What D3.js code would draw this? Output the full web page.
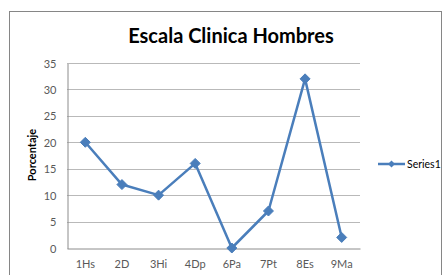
<!DOCTYPE html>
<html>
<head>
<meta charset="utf-8">
<script src="https://cdn.jsdelivr.net/npm/d3@7"></script>
<style>
  html, body { margin: 0; padding: 0; background: #fff; }
  svg { display: block; font-family: Lato, "Open Sans", sans-serif; }
</style>
</head>
<body>
<div id="chart"></div>
<script>
// Escala Clinica Hombres — single line series
const categories = ['1Hs', '2D', '3Hi', '4Dp', '6Pa', '7Pt', '8Es', '9Ma'];
const series1 = [20, 12, 10, 16, 0, 7, 32, 2];
const yTicks = [0, 5, 10, 15, 20, 25, 30, 35];

const W = 444, H = 275;
const plot = { left: 67, right: 360, top: 63, bottom: 248 };
const color = '#4a7ebb';

const svg = d3.select('#chart').append('svg')
  .attr('width', W).attr('height', H);

// chart frame
svg.append('rect')
  .attr('x', 9.5).attr('y', 11.5).attr('width', 432).attr('height', 280)
  .attr('fill', '#fff').attr('stroke', '#868686').attr('stroke-width', 1);

const x = d3.scaleBand().domain(categories).range([plot.left, plot.right]);
const y = d3.scaleLinear().domain([0, 35]).range([plot.bottom, plot.top]);

// gridlines
svg.append('g').selectAll('line').data(yTicks.filter(t => t > 0)).enter().append('line')
  .attr('x1', plot.left).attr('x2', plot.right)
  .attr('y1', d => Math.round(y(d)) + 0.5).attr('y2', d => Math.round(y(d)) + 0.5)
  .attr('stroke', '#b9b9b9');

// y axis
const yAxis = svg.append('g')
  .attr('transform', `translate(${plot.left + 0.5},0.5)`)
  .call(d3.axisLeft(y).tickValues(yTicks).tickSize(0).tickPadding(11));
yAxis.select('.domain').attr('stroke', '#8c8c8c');
yAxis.selectAll('text').attr('fill', '#595959').attr('font-size', 11)
  .attr('font-family', 'Lato, sans-serif');

// x axis
const xAxis = svg.append('g')
  .attr('transform', `translate(0,${Math.round(plot.bottom) + 0.5})`)
  .call(d3.axisBottom(x).tickSize(0).tickPadding(12));
xAxis.select('.domain').attr('stroke', '#8c8c8c');
xAxis.selectAll('text').attr('fill', '#595959').attr('font-size', 11)
  .attr('font-family', 'Lato, sans-serif');

// line
const cx = c => x(c) + x.bandwidth() / 2;
svg.append('path')
  .datum(series1)
  .attr('fill', 'none').attr('stroke', color).attr('stroke-width', 2.5)
  .attr('stroke-linejoin', 'round')
  .attr('d', d3.line().x((d, i) => cx(categories[i])).y(d => y(d)));

// diamond markers
const diamond = s => `M0,${-s}L${s},0L0,${s}L${-s},0Z`;
svg.append('g').selectAll('path').data(series1).enter().append('path')
  .attr('transform', (d, i) => `translate(${cx(categories[i])},${y(d)})`)
  .attr('d', diamond(5))
  .attr('fill', color).attr('stroke', color);

// title
svg.append('text')
  .attr('x', 231).attr('y', 43).attr('text-anchor', 'middle')
  .attr('font-size', 20).attr('font-weight', 'bold').attr('fill', '#000')
  .text('Escala Clinica Hombres');

// y label
svg.append('text')
  .attr('transform', 'translate(36,155) rotate(-90)')
  .attr('text-anchor', 'middle')
  .attr('font-size', 11).attr('font-weight', 'bold').attr('fill', '#000')
  .text('Porcentaje');

// legend
const lg = svg.append('g').attr('transform', 'translate(378,164)');
lg.append('line').attr('x1', 0).attr('x2', 27).attr('stroke', color).attr('stroke-width', 2.5);
lg.append('path').attr('transform', 'translate(13.5,0)').attr('d', diamond(3.5)).attr('fill', color);
lg.append('text').attr('x', 29).attr('y', 4).attr('font-size', 10.5).attr('fill', '#000')
  .text('Series1');
</script>
</body>
</html>
